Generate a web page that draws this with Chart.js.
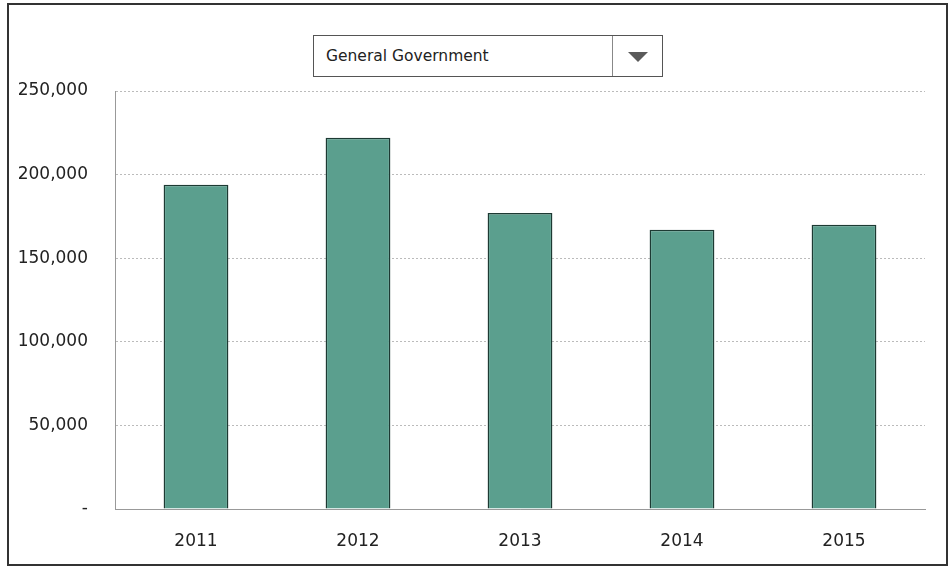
<!DOCTYPE html>
<html>
<head>
    <title>General Government</title>
    <script src="https://cdn.jsdelivr.net/npm/chart.js"></script>
    <style>
        body { margin: 0; background: #fff; }
        #wrap { position: relative; width: 952px; height: 569px; }
        #frame { position: absolute; left: 7px; top: 3px; width: 937px; height: 559px; border: 2px solid #333; pointer-events: none; }
        #picker { position: absolute; left: 313px; top: 35px; width: 348px; height: 40px; border: 1px solid #555; background: #fff;
                  font-family: "DejaVu Sans", Verdana, sans-serif; font-size: 15.5px; color: #222; }
        #picker span { position: absolute; left: 12px; top: 11px; }
        #picker .btn { position: absolute; right: 0; top: 0; width: 49px; height: 40px; border-left: 1px solid #888; }
        #picker .btn:after { content: ""; position: absolute; left: 15px; top: 16px; border-left: 10px solid transparent;
                  border-right: 10px solid transparent; border-top: 10px solid #5a5a5a; }
    </style>
</head>
<body>
<div id="wrap">
    <canvas id="govChart" width="952" height="569"></canvas>
    <div id="picker"><span>General Government</span><div class="btn"></div></div>
    <div id="frame"></div>
</div>
<script>
    const years = ['2011', '2012', '2013', '2014', '2015'];
    const spending = [194000, 222000, 177000, 167000, 170000];
    const yTicks = [0, 50000, 100000, 150000, 200000, 250000];

    const font = { family: '"DejaVu Sans", Verdana, sans-serif', size: 17 };

    new Chart(document.getElementById('govChart').getContext('2d'), {
        type: 'bar',
        data: {
            labels: years,
            datasets: [{
                data: spending,
                backgroundColor: '#5b9f8e',
                borderColor: '#1d3a33',
                borderWidth: 1.5,
                barPercentage: 0.8,
                categoryPercentage: 0.5
            }]
        },
        options: {
            responsive: false,
            animation: false,
            layout: { padding: { left: 8, right: 27, top: 91, bottom: 0 } },
            plugins: { legend: { display: false }, tooltip: { enabled: false } },
            scales: {
                x: {
                    grid: { display: false },
                    border: { color: '#999', dash: [2, 2] },
                    ticks: { color: '#222', font: font, padding: 14 },
                    afterFit: s => { s.height = 60; }
                },
                y: {
                    min: 0,
                    max: 250000,
                    afterBuildTicks: s => { s.ticks = yTicks.map(v => ({ value: v })); },
                    grid: { color: '#bbb', drawTicks: false },
                    border: { color: '#999', dash: [2, 2] },
                    ticks: {
                        color: '#222',
                        font: font,
                        padding: 27,
                        callback: v => v === 0 ? '-' : v.toLocaleString('en-US')
                    },
                    afterFit: s => { s.width = 107; }
                }
            }
        }
    });
</script>
</body>
</html>
